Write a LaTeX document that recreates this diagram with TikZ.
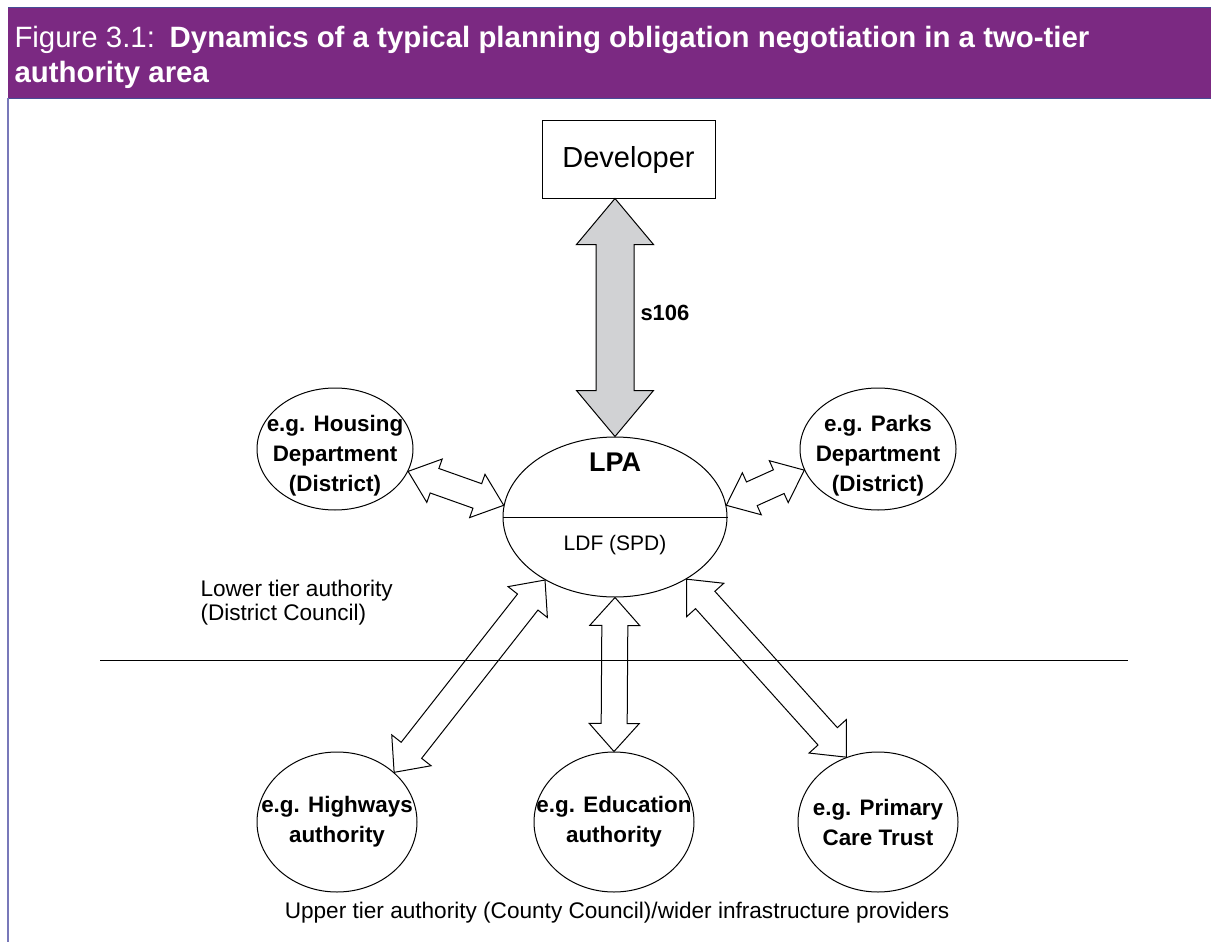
\documentclass[tikz,border=0pt]{standalone}
\usepackage{fontspec}
\setmainfont{Liberation Sans}
\usetikzlibrary{calc}
\usetikzlibrary{shapes.geometric}

\definecolor{figpurple}{RGB}{123,41,130}
\definecolor{figrule}{RGB}{70,76,150}
\definecolor{figside}{RGB}{120,120,185}
\definecolor{arrowgrey}{RGB}{209,210,212}

% double block arrow: [style]{from}{to}{head length}{head half width}{shaft half width}
\newcommand{\blockarrow}[6][]{%
  \draw[#1] (#2) -- ($(#2)!#4!(#3)!#5!90:(#3)$) -- ($(#2)!#4!(#3)!#6!90:(#3)$)
    -- ($(#3)!#4!(#2)!#6!-90:(#2)$) -- ($(#3)!#4!(#2)!#5!-90:(#2)$) -- (#3)
    -- ($(#3)!#4!(#2)!#5!90:(#2)$) -- ($(#3)!#4!(#2)!#6!90:(#2)$)
    -- ($(#2)!#4!(#3)!#6!-90:(#3)$) -- ($(#2)!#4!(#3)!#5!-90:(#3)$) -- cycle;}

\begin{document}
\begin{tikzpicture}[x=0.5pt,y=-0.5pt,line width=0.5pt,
	org/.style={draw,ellipse,inner sep=0pt,minimum width=78pt,minimum height=61pt},
	orgbig/.style={draw,ellipse,inner sep=0pt,minimum width=80pt,minimum height=70pt},
	orgtext/.style={align=center,font=\fontsize{11.2}{15}\selectfont\bfseries},
	tiertext/.style={inner sep=0pt,font=\fontsize{11.3}{12}\selectfont}]
		\useasboundingbox (0,0) rectangle (1211,942);
		
		% banner
		\fill [figpurple] (8,8) rectangle (1211,98);
		\draw [figrule] (8,7.5) -- (1211,7.5);
		\draw [figrule] (8,98.5) -- (1211,98.5);
		\draw [figside, line width=0.7pt] (8,98) -- (8,942);
		\node [anchor=base west, inner sep=0pt, text=white, font=\fontsize{14.7}{16}\selectfont] (title1) at (14,47) {Figure 3.1:\enspace\textbf{Dynamics of a typical planning obligation negotiation in a two-tier}};
		\node [anchor=base west, inner sep=0pt, text=white, font=\fontsize{14.7}{16}\selectfont\bfseries] (title2) at (14,82) {authority area};
		
		\node [draw, inner sep=0pt, minimum width=86.5pt, minimum height=39pt, font=\fontsize{14.5}{16}\selectfont, text depth=0.25em] (dev) at (628.5,159) {Developer};
		
		\node [draw, ellipse, inner sep=0pt, minimum width=112pt, minimum height=80pt] (lpa) at (615,517) {};
		\draw (lpa.west) -- (lpa.east);
		\node [font=\fontsize{13.5}{15}\selectfont\bfseries] (lpatext) at (615,462) {LPA};
		\node [font=\fontsize{10.5}{12}\selectfont] (ldf) at (615,545) {LDF (SPD)};
		
		\node [org] (hous) at (335,449) {};
		\node [orgtext] at ([yshift=-3.5pt]hous) {e.g. Housing\\Department\\(District)};
		\node [org] (parks) at (878,449) {};
		\node [orgtext] at ([yshift=-3.5pt]parks) {e.g. Parks\\Department\\(District)};
		
		\node [orgbig] (high) at (337,822) {};
		\node [orgtext] at (high) {e.g. Highways\\authority};
		\node [orgbig] (edu) at (614,822) {};
		\node [orgtext] at (edu) {e.g. Education\\authority};
		\node [orgbig] (pct) at (878,822) {};
		\node [orgtext] at (pct) {e.g. Primary\\Care Trust};
		
		\draw (100,660) -- (1128,660);
		\node [tiertext, anchor=north west, align=left] (lower) at (200,580) {Lower tier authority\\(District Council)};
		\node [tiertext] (upper) at (617,913) {Upper tier authority (County Council)/wider infrastructure providers};
		
		% s106 link
		\coordinate (devend) at (lpa.north |- dev.south);
		\blockarrow[fill=arrowgrey]{devend}{lpa.north}{23pt}{19.25pt}{9.5pt}
		\node [anchor=west, inner sep=0pt, font=\fontsize{11}{13}\selectfont\bfseries] (s106) at (640,313) {s106};
		
		% links to the LPA
		\blockarrow{hous.-17}{lpa.174}{14pt}{11.5pt}{6.5pt}
		\blockarrow{lpa.6}{parks.196}{14pt}{11.5pt}{6.5pt}
		\blockarrow{lpa.222}{high.41}{14pt}{12.5pt}{6.5pt}
		\blockarrow{lpa.south}{edu.north}{14pt}{12.5pt}{6.5pt}
		\blockarrow{lpa.-41}{pct.116}{14pt}{12.5pt}{6.5pt}
		
\end{tikzpicture}
\end{document}
